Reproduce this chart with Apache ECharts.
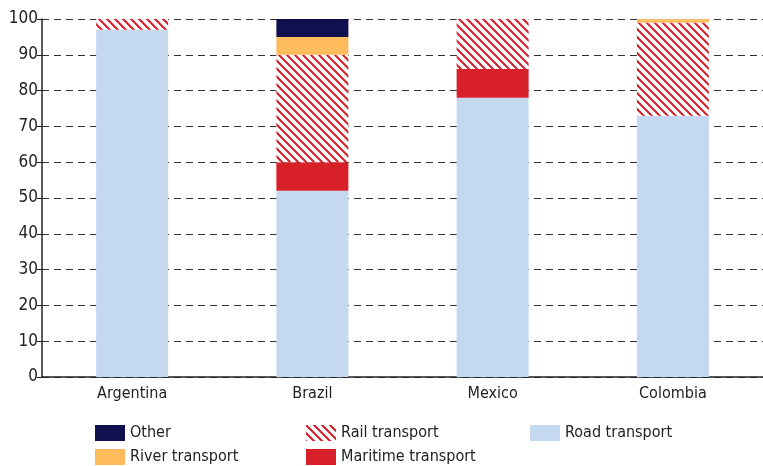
<!DOCTYPE html>
<html>
<head>
<meta charset="utf-8">
<script src="https://cdn.jsdelivr.net/npm/echarts@6/dist/echarts.min.js"></script>
<style>
  html, body { margin: 0; padding: 0; background: #fff; }
  #chart { width: 763px; height: 466px; }
</style>
</head>
<body>
<div id="chart"></div>
<script>
  // data
  var countries = ['Argentina', 'Brazil', 'Mexico', 'Colombia'];
  var road = [97, 52, 78, 73];
  var maritime = [0, 8, 8, 0];
  var rail = [3, 30, 14, 26];
  var river = [0, 5, 0, 1];
  var other = [0, 5, 0, 0];

  var font = '"Liberation Sans Narrow", "DejaVu Sans Condensed", sans-serif';

  // hatch for rail
  function hatch() {
    var c = document.createElement('canvas');
    c.width = 8; c.height = 8;
    var ctx = c.getContext('2d');
    ctx.fillStyle = '#fff';
    ctx.fillRect(0, 0, 8, 8);
    ctx.strokeStyle = '#d41f2a';
    ctx.lineWidth = 2;
    ctx.beginPath();
    ctx.moveTo(-2, -2); ctx.lineTo(10, 10);
    ctx.moveTo(-10, -2); ctx.lineTo(2, 10);
    ctx.moveTo(6, -2); ctx.lineTo(18, 10);
    ctx.stroke();
    return { image: c, repeat: 'repeat' };
  }

  var myChart = echarts.init(document.getElementById('chart'));
  var bar = function (name, data, color) {
    return {
      name: name, type: 'bar', stack: 'total', data: data,
      barWidth: 72,
      itemStyle: { color: color },
      emphasis: { disabled: true }
    };
  };
  var legendBase = {
    orient: 'vertical', top: 425, padding: 0, itemWidth: 30, itemHeight: 16, itemGap: 8,
    icon: 'rect',
    textStyle: { fontFamily: font, fontSize: 16, color: '#222' }
  };

  myChart.setOption({
    animation: false,
    grid: { left: 42, right: -6, top: 19, bottom: 89 },
    legend: [
      Object.assign({ left: 95, data: ['Other', 'River transport'] }, legendBase),
      Object.assign({ left: 306, data: ['Rail transport', 'Maritime transport'] }, legendBase),
      Object.assign({ left: 530, data: ['Road transport'] }, legendBase)
    ],
    xAxis: {
      type: 'category',
      data: countries,
      axisLine: { lineStyle: { color: '#222', width: 1.5 } },
      axisTick: { show: false },
      axisLabel: { fontFamily: font, fontSize: 16, color: '#222', margin: 9 }
    },
    yAxis: {
      type: 'value',
      min: 0, max: 100, interval: 10,
      axisLine: { show: true, lineStyle: { color: '#222', width: 1.5 } },
      axisTick: { show: true, length: 5, lineStyle: { color: '#222' } },
      axisLabel: { fontFamily: font, fontSize: 17, color: '#222', margin: 4 },
      splitLine: { lineStyle: { color: '#333', type: [7, 5], width: 1 } }
    },
    series: [
      bar('Road transport', road, '#c4d8ef'),
      bar('Maritime transport', maritime, '#d7202a'),
      bar('Rail transport', rail, hatch()),
      bar('River transport', river, '#fdbb5c'),
      bar('Other', other, '#10104f')
    ]
  });
</script>
</body>
</html>
